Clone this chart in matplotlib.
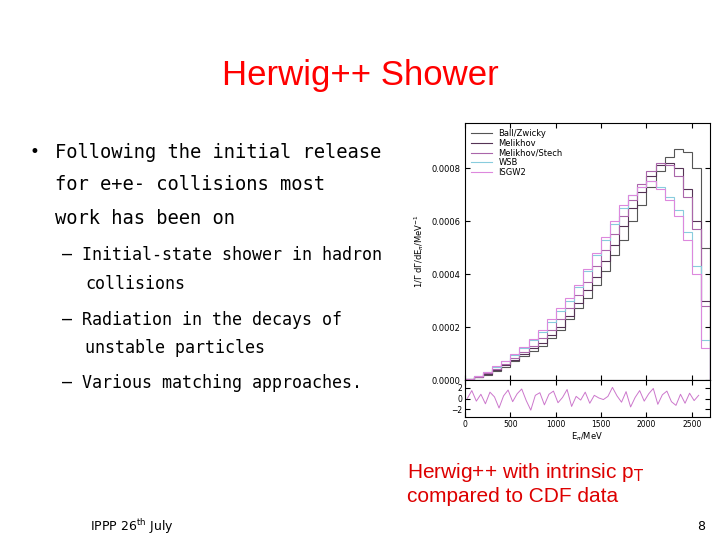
import matplotlib
matplotlib.use("Agg")
import matplotlib.pyplot as plt
import numpy as np

edges = np.arange(0, 2701, 100)
ball_zwicky = [0.000003,0.00001,0.00002,0.000035,0.00005,0.00007,0.00009,0.00011,0.00013,0.00016,0.00019,0.00023,0.00027,0.00031,0.00036,0.00041,0.00047,0.00053,0.0006,0.00066,0.00073,0.00079,0.00084,0.00087,0.00086,0.00080,0.00050]
melikhov = [0.000003,0.00001,0.000022,0.000038,0.000055,0.000075,0.000097,0.00012,0.00014,0.00017,0.0002,0.00024,0.00029,0.00034,0.00039,0.00045,0.00051,0.00058,0.00065,0.00071,0.00077,0.00081,0.00082,0.00080,0.00072,0.00060,0.00030]
melikhov_stech = [0.000004,0.000012,0.000025,0.000042,0.00006,0.000082,0.000105,0.00013,0.00016,0.00019,0.00023,0.00027,0.00032,0.00037,0.00043,0.00049,0.00055,0.00062,0.00068,0.00074,0.00079,0.00082,0.00081,0.00077,0.00069,0.00057,0.00028]
wsb = [0.000005,0.000015,0.00003,0.00005,0.00007,0.000095,0.00012,0.00015,0.00018,0.00022,0.00026,0.0003,0.00035,0.00041,0.00047,0.00053,0.00059,0.00065,0.0007,0.00073,0.00075,0.00073,0.00069,0.00064,0.00056,0.00043,0.00015]
isgw2 = [0.000005,0.000016,0.000031,0.000051,0.000072,0.000097,0.000125,0.000155,0.00019,0.00023,0.00027,0.00031,0.00036,0.00042,0.00048,0.00054,0.0006,0.00066,0.0007,0.00073,0.00075,0.00072,0.00068,0.00062,0.00053,0.00040,0.00012]
ratio_x = np.arange(25, 2600, 50)
ratio = [0,1.5,-0.5,0.8,-1,1.2,0.3,-1.8,0.5,1.6,-0.6,0.9,1.8,-0.4,-2.2,0.6,1.1,-1.2,0.8,1.4,-0.8,0.2,1.7,-1.5,0.4,-0.3,1.2,-0.9,0.6,0.1,-0.2,0.4,2.1,0.5,-0.7,1.3,-1.6,0.2,1.5,-0.5,0.9,1.9,-1.1,0.7,1.4,-0.6,-1.3,0.8,-0.9,1.0,-0.4,0.6]

fig = plt.figure(figsize=(7.2, 5.4), dpi=100)
fig.text(0.5, 1-75/540, "Herwig++ Shower", color="#ff0000", fontsize=25, ha="center", va="center", family="Liberation Sans")
mono = "DejaVu Sans Mono"
fig.text(30/720, 1-152/540, "•", fontsize=12, va="center")
for i, t in enumerate(["Following the initial release", "for e+e- collisions most", "work has been on"]):
    fig.text(55/720, 1-(152+33*i)/540, t, fontsize=13.5, va="center", family=mono)
subs = [(62, 255, "– Initial-state shower in hadron"), (85, 284, "collisions"), (62, 320, "– Radiation in the decays of"), (85, 348, "unstable particles"), (62, 383, "– Various matching approaches.")]
for x, y, t in subs:
    fig.text(x/720, 1-y/540, t, fontsize=12, va="center", family=mono)
fig.text(407/720, 1-484/540, "Herwig++ with intrinsic p$_\\mathrm{T}$\ncompared to CDF data", color="#dd0000", fontsize=15, va="center", family="Liberation Sans", linespacing=1.2)
fig.text(90/720, 1-527/540, "IPPP 26$^{\\mathrm{th}}$ July", fontsize=9, va="center")
fig.text(697/720, 1-527/540, "8", fontsize=9, va="center")

ax = fig.add_axes([465/720, 1-380/540, 245/720, 257/540])
ax2 = fig.add_axes([465/720, 1-417/540, 245/720, 37/540], sharex=ax)
series = [(ball_zwicky, "Ball/Zwicky", "#555555"), (melikhov, "Melikhov", "#553355"),
          (melikhov_stech, "Melikhov/Stech", "#aa66aa"), (wsb, "WSB", "#88ccdd"), (isgw2, "ISGW2", "#dd88dd")]
for vals, lab, c in series:
    ax.stairs(vals, edges, color=c, lw=0.8, label=lab)
ax.set_xlim(0, 2700)
ax.set_ylim(0, 0.00097)
ax.set_yticks([0, 0.0002, 0.0004, 0.0006, 0.0008])
ax.set_yticklabels(["0.0000", "0.0002", "0.0004", "0.0006", "0.0008"])
ax.set_ylabel("1/Γ dΓ/dE$_\\pi$/MeV$^{-1}$", fontsize=6)
ax.tick_params(labelsize=6, direction="in", labelbottom=False, right=True, top=True)
ax.legend(loc="upper left", frameon=False, fontsize=6, handlelength=2.5, labelspacing=0.1, borderaxespad=0.3)
ax2.plot(ratio_x, ratio, color="#cc77cc", lw=0.7)
ax2.set_ylim(-3.5, 3.5)
ax2.set_yticks([-2, 0, 2])
ax2.tick_params(labelsize=5.5, direction="in", right=True, top=True, pad=2)
ax2.set_xticks([0, 500, 1000, 1500, 2000, 2500])
ax2.set_xlabel("E$_\\pi$/MeV", fontsize=6, labelpad=1)
fig.savefig("out.png", dpi=100)
